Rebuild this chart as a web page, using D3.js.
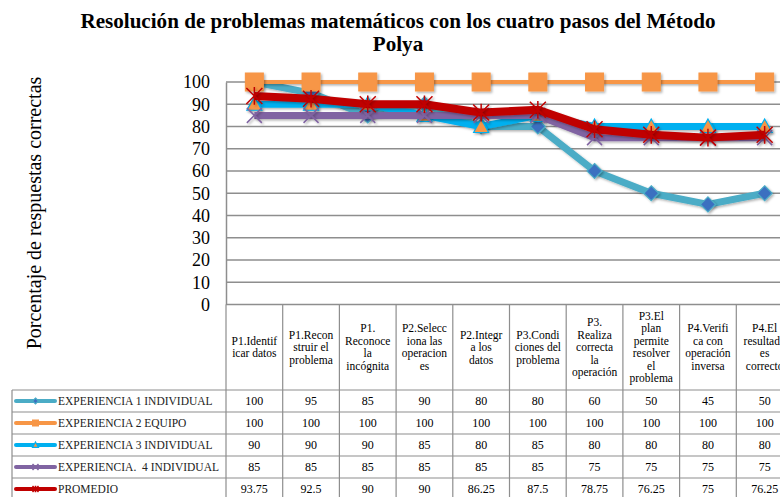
<!DOCTYPE html>
<html><head><meta charset="utf-8">
<script src="https://cdn.jsdelivr.net/npm/d3@7/dist/d3.min.js"></script>
<style>body{margin:0;background:#fff}svg{display:block}</style>
</head><body>
<svg id="c" width="780" height="497"></svg>
<script>
const categories = [
  ["P1.Identif","icar datos"],
  ["P1.Recon","struir el","problema"],
  ["P1.","Reconoce","la","incógnita"],
  ["P2.Selecc","iona las","operacion","es"],
  ["P2.Integr","a los","datos"],
  ["P3.Condi","ciones del","problema"],
  ["P3.","Realiza","correcta","la","operación"],
  ["P3.El","plan","permite","resolver","el","problema"],
  ["P4.Verifi","ca con","operación","inversa"],
  ["P4.El","resultado","es","correcto"]
];
const seriesNames = ["EXPERIENCIA 1 INDIVIDUAL","EXPERIENCIA 2 EQUIPO","EXPERIENCIA 3 INDIVIDUAL","EXPERIENCIA.  4 INDIVIDUAL","PROMEDIO"];
const exp1 = [100,95,85,90,80,80,60,50,45,50];
const exp2 = [100,100,100,100,100,100,100,100,100,100];
const exp3 = [90,90,90,85,80,85,80,80,80,80];
const exp4 = [85,85,85,85,85,85,75,75,75,75];
const promedio = [93.75,92.5,90,90,86.25,87.5,78.75,76.25,75,76.25];
const yTicks = [0,10,20,30,40,50,60,70,80,90,100];
const title = ["Resolución de problemas matemáticos con los cuatro pasos del Método","Polya"];
const yTitle = "Porcentaje de respuestas correctas";

const allValues = [exp1,exp2,exp3,exp4,promedio];
const styles = [
  {line:"#4bacc6", w:7, marker:"diamond", fill:"#3a70c0", stroke:"#4bacc6", size:15},
  {line:"#f79646", w:4, marker:"square", fill:"#f79646", stroke:"#f79646", size:18},
  {line:"#00b0f0", w:7, marker:"triangle", fill:"#f79646", stroke:"#00b0f0", size:15},
  {line:"#8064a2", w:7, marker:"x", fill:"none", stroke:"#8064a2", size:15},
  {line:"#c00000", w:8, marker:"star", fill:"none", stroke:"#c00000", size:16}
];
const fontSerif = "'Liberation Serif','Times New Roman',serif";
const svg = d3.select("#c");
const defs = svg.append("defs");
const f = defs.append("filter").attr("id","sh").attr("filterUnits","userSpaceOnUse")
  .attr("x",0).attr("y",0).attr("width",780).attr("height",497);
f.append("feDropShadow").attr("dx",1.5).attr("dy",1.5).attr("stdDeviation",1.2).attr("flood-color","#000").attr("flood-opacity",0.3);

const plotLeft = 226, colW = 56.7, plotTop = 82, plotBottom = 304.5;
const x = d3.scaleBand().domain(d3.range(categories.length)).range([plotLeft, plotLeft + colW*categories.length]).paddingInner(0).paddingOuter(0);
const y = d3.scaleLinear().domain([0,100]).range([plotBottom, plotTop]);
const gridColor = "#8e8e8e";

// title
const tg = svg.append("g").attr("transform","translate(398,0) scale(0.96,1)");
tg.append("text").attr("text-anchor","middle")
  .attr("font-family",fontSerif).attr("font-weight","bold").attr("font-size",22).attr("fill","#000")
  .selectAll("tspan").data(title).join("tspan").attr("x",0).attr("y",(d,i)=>i?51:28).text(d=>d);

// y title
svg.append("text").attr("transform","translate(41,213) rotate(-90)").attr("text-anchor","middle")
  .attr("font-family",fontSerif).attr("font-size",20).attr("fill","#000").text(yTitle);

// grid
svg.append("g").selectAll("line").data(yTicks.filter(d=>d>0)).join("line")
  .attr("x1",plotLeft).attr("x2",780).attr("y1",d=>y(d)).attr("y2",d=>y(d))
  .attr("stroke",gridColor).attr("stroke-width",1.5);

// y axis
const yAxis = d3.axisLeft(y).tickValues(yTicks).tickSize(0).tickPadding(16);
const ga = svg.append("g").attr("transform",`translate(${plotLeft},0)`).call(yAxis);
ga.select(".domain").attr("stroke",gridColor).attr("stroke-width",1.5);
ga.selectAll("text").attr("font-family",fontSerif).attr("font-size",18).attr("fill","#000");

// x axis line
svg.append("line").attr("x1",plotLeft).attr("x2",780).attr("y1",plotBottom).attr("y2",plotBottom).attr("stroke",gridColor).attr("stroke-width",1.5);

// table
const headerBottom = 390, rowH = 22;
const tbl = svg.append("g");
const colEdges = d3.range(categories.length+1).map(i => i<categories.length ? x(i) : x(categories.length-1)+x.bandwidth());
tbl.selectAll("line.v").data(colEdges).join("line").attr("class","v")
  .attr("x1",d=>d).attr("x2",d=>d).attr("y1",plotBottom).attr("y2",497)
  .attr("stroke",gridColor).attr("stroke-width",1.2);
const rowEdges = d3.range(seriesNames.length).map(i => headerBottom + i*rowH);
tbl.selectAll("line.h").data(rowEdges).join("line").attr("class","h")
  .attr("x1",12).attr("x2",780).attr("y1",d=>d).attr("y2",d=>d)
  .attr("stroke",gridColor).attr("stroke-width",1.2);
tbl.append("line").attr("x1",12).attr("x2",12).attr("y1",headerBottom).attr("y2",497).attr("stroke",gridColor).attr("stroke-width",1.2);

// header labels
const lh = 12.5;
categories.forEach((lines,i)=>{
  const cx = x(i)+x.bandwidth()/2;
  const cy = 347;
  const t = tbl.append("text").attr("text-anchor","middle").attr("font-family",fontSerif).attr("font-size",11.5).attr("fill","#000");
  lines.forEach((ln,j)=>{
    t.append("tspan").attr("x",cx).attr("y", cy - (lines.length-1)*lh/2 + j*lh + 4).text(ln);
  });
});

// data cells
allValues.forEach((vals,r)=>{
  const cy = headerBottom + r*rowH + rowH/2 + 4;
  tbl.append("g").selectAll("text").data(vals).join("text")
    .attr("x",(d,i)=>x(i)+x.bandwidth()/2).attr("y",cy).attr("text-anchor","middle")
    .attr("font-family",fontSerif).attr("font-size",12).attr("fill","#000").text(d=>d);
});

function drawMarker(g, type, s, st, cx, cy, filter){
  const h = s/2;
  let el;
  if(type==="diamond"){
    el = g.append("path").attr("d",`M${cx},${cy-h}L${cx+h},${cy}L${cx},${cy+h}L${cx-h},${cy}Z`).attr("fill",st.fill).attr("stroke",st.stroke).attr("stroke-width",1.2);
  } else if(type==="square"){
    el = g.append("rect").attr("x",cx-h).attr("y",cy-h).attr("width",s).attr("height",s).attr("fill",st.fill).attr("stroke",st.stroke).attr("stroke-width",1);
  } else if(type==="triangle"){
    el = g.append("path").attr("d",`M${cx},${cy-h}L${cx+h},${cy+h*0.8}L${cx-h},${cy+h*0.8}Z`).attr("fill",st.fill).attr("stroke",st.stroke).attr("stroke-width",1.2);
  } else if(type==="x"){
    el = g.append("path").attr("d",`M${cx-h},${cy-h}L${cx+h},${cy+h}M${cx+h},${cy-h}L${cx-h},${cy+h}`).attr("fill","none").attr("stroke",st.stroke).attr("stroke-width",1.5);
  } else if(type==="star"){
    el = g.append("path").attr("d",`M${cx-h},${cy-h}L${cx+h},${cy+h}M${cx+h},${cy-h}L${cx-h},${cy+h}M${cx},${cy-h*1.1}L${cx},${cy+h*1.1}`).attr("fill","none").attr("stroke",st.stroke).attr("stroke-width",1.5);
  }
  if(filter) el.attr("filter","url(#sh)");
}

// lines
const line = d3.line().x((d,i)=>x(i)+x.bandwidth()/2).y(d=>y(d));
const plot = svg.append("g");
allValues.forEach((vals,k)=>{
  const st = styles[k];
  plot.append("path").datum(vals).attr("d",line).attr("fill","none")
    .attr("stroke",st.line).attr("stroke-width",st.w).attr("stroke-linejoin","round").attr("filter","url(#sh)");
  vals.forEach((v,i)=>drawMarker(plot, st.marker, st.size, st, x(i)+x.bandwidth()/2, y(v), true));
});

// legend keys
seriesNames.forEach((name,r)=>{
  const st = styles[r];
  const cy = headerBottom + r*rowH + rowH/2;
  const g = tbl.append("g");
  g.append("line").attr("x1",16).attr("x2",55).attr("y1",cy).attr("y2",cy).attr("stroke",st.line).attr("stroke-width",4).attr("stroke-linecap","round");
  drawMarker(g, st.marker, 6, st, 35.5, cy, false);
  g.append("text").attr("x",58).attr("y",cy+4).attr("font-family",fontSerif).attr("font-size",11.5).attr("fill","#222").style("white-space","pre").text(name);
});
</script>
</body></html>
